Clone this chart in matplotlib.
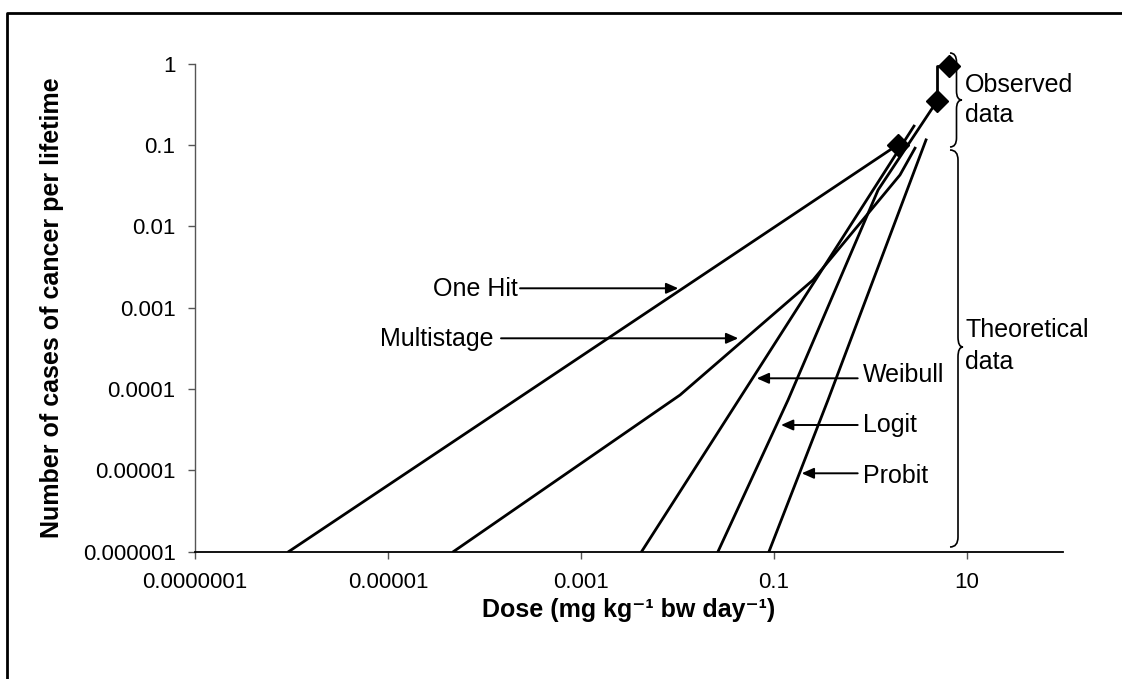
import matplotlib
matplotlib.use('Agg')
import matplotlib.pyplot as plt
from matplotlib.path import Path
from matplotlib.patches import PathPatch, FancyArrowPatch
from matplotlib.lines import Line2D
from matplotlib.ticker import NullLocator, FixedLocator, FixedFormatter

plt.rcParams['font.family'] = ['Liberation Sans', 'DejaVu Sans']

# ---------------- data ----------------
obs_dose = [1.93, 4.98, 6.5]
obs_resp = [0.10, 0.35, 0.93]

one_hit_dose = [9.4e-7, 1.93]
one_hit_resp = [1e-6, 0.10]

multistage_dose = [4.8e-5, 0.0107, 0.256, 2.04, 2.92]
multistage_resp = [1e-6, 8.4e-5, 0.00218, 0.0426, 0.091]

weibull_dose = [0.00428, 2.85]
weibull_resp = [1e-6, 0.17]

logit_dose = [0.0265, 0.141, 1.21, 4.98]
logit_resp = [1e-6, 7.3e-5, 0.0279, 0.35]

probit_dose = [0.0895, 0.366, 3.80]
probit_resp = [1e-6, 7.3e-5, 0.115]

x_ticks = [1e-7, 1e-5, 1e-3, 1e-1, 10]
x_tick_labels = ['0.0000001', '0.00001', '0.001', '0.1', '10']
y_ticks = [1e-6, 1e-5, 1e-4, 1e-3, 1e-2, 1e-1, 1]
y_tick_labels = ['0.000001', '0.00001', '0.0001', '0.001', '0.01', '0.1', '1']

# ---------------- figure ----------------
W, H = 1122, 679
fig = plt.figure(figsize=(W / 100, H / 100), dpi=100)
fig.patch.set_facecolor('white')


def fx(px):
    return px / W


def fy(py):
    return 1 - py / H


ax = fig.add_axes([fx(195), fy(551.5), (1063 - 195) / W, (551.5 - 63.5) / H])
ax.set_xscale('log')
ax.set_yscale('log')
ax.set_xlim(1e-7, 100)
ax.set_ylim(1e-6, 1)

lw = 2.0
ax.plot(one_hit_dose, one_hit_resp, color='black', lw=lw)
ax.plot(multistage_dose, multistage_resp, color='black', lw=lw)
ax.plot(weibull_dose, weibull_resp, color='black', lw=lw)
ax.plot(logit_dose, logit_resp, color='black', lw=lw)
ax.plot(probit_dose, probit_resp, color='black', lw=lw)
# connector between upper observed points
ax.plot([obs_dose[1], obs_dose[1], obs_dose[2]],
        [obs_resp[1], obs_resp[2], obs_resp[2]], color='black', lw=lw)
ax.plot(obs_dose, obs_resp, linestyle='none', marker='D', markersize=11.5,
        color='black', clip_on=False, zorder=5)

for s in ['top', 'right']:
    ax.spines[s].set_visible(False)
ax.spines['left'].set_color('#555555')
ax.spines['left'].set_linewidth(1.0)
ax.spines['bottom'].set_color('black')
ax.spines['bottom'].set_linewidth(1.3)

ax.xaxis.set_major_locator(FixedLocator(x_ticks))
ax.xaxis.set_major_formatter(FixedFormatter(x_tick_labels))
ax.yaxis.set_major_locator(FixedLocator(y_ticks))
ax.yaxis.set_major_formatter(FixedFormatter(y_tick_labels))
ax.xaxis.set_minor_locator(NullLocator())
ax.yaxis.set_minor_locator(NullLocator())
ax.tick_params(axis='x', direction='out', length=4.8, width=1.0, color='#555555',
               pad=10, labelsize=16)
ax.tick_params(axis='y', direction='out', length=5, width=1.0, color='#555555',
               pad=9, labelsize=16)

ax.set_xlabel('Dose (mg kg\u207b\u00b9 bw day\u207b\u00b9)', fontsize=18,
              fontweight='bold')
ax.xaxis.set_label_coords(0.5, (551.5 - 617) / 488, transform=ax.transAxes)
ax.xaxis.label.set_va('baseline')
ax.set_ylabel('Number of cases of cancer per lifetime', fontsize=18,
              fontweight='bold')
ax.yaxis.set_label_coords((52 - 195) / 868, 0.5)
ax.yaxis.label.set_va('center')

# ---------------- annotations ----------------
afs = 18
fig.text(fx(518), fy(296), 'One Hit', ha='right', va='baseline', fontsize=afs)
fig.text(fx(493.5), fy(346), 'Multistage', ha='right', va='baseline', fontsize=afs)
fig.text(fx(863), fy(381.7), 'Weibull', ha='left', va='baseline', fontsize=afs)
fig.text(fx(863), fy(431.7), 'Logit', ha='left', va='baseline', fontsize=afs)
fig.text(fx(863), fy(483.3), 'Probit', ha='left', va='baseline', fontsize=afs)
fig.text(fx(965), fy(91.7), 'Observed', ha='left', va='baseline', fontsize=afs)
fig.text(fx(965), fy(121.7), 'data', ha='left', va='baseline', fontsize=afs)
fig.text(fx(965), fy(337.3), 'Theoretical', ha='left', va='baseline', fontsize=afs)
fig.text(fx(965), fy(369), 'data', ha='left', va='baseline', fontsize=afs)

arrows = [
    ((520, 288.3), (678.3, 288.3)),
    ((501, 338.3), (738.3, 338.3)),
    ((857.7, 378.3), (756.7, 378.3)),
    ((857.7, 425), (781, 425)),
    ((857.7, 473.3), (801.7, 473.3)),
]
for (tx, ty), (hx, hy) in arrows:
    fig.add_artist(FancyArrowPatch(
        (fx(tx), fy(ty)), (fx(hx), fy(hy)), transform=fig.transFigure,
        arrowstyle='-|>,head_length=0.36,head_width=0.16', mutation_scale=20,
        color='black', lw=1.4, shrinkA=0, shrinkB=0))


def brace(x_end, x_body, x_tip, ytop, ymid, ybot, r):
    pts = [
        (x_end, ytop), (x_body, ytop), (x_body, ytop + r),
        (x_body, ymid - r),
        (x_body, ymid), (x_tip, ymid),
        (x_body, ymid), (x_body, ymid + r),
        (x_body, ybot - r),
        (x_body, ybot), (x_end, ybot),
    ]
    codes = [Path.MOVETO, Path.CURVE3, Path.CURVE3, Path.LINETO,
             Path.CURVE3, Path.CURVE3, Path.CURVE3, Path.CURVE3,
             Path.LINETO, Path.CURVE3, Path.CURVE3]
    verts = [(fx(x), fy(y)) for x, y in pts]
    p = PathPatch(Path(verts, codes), transform=fig.transFigure,
                  facecolor='none', edgecolor='black', lw=1.2)
    fig.add_artist(p)


brace(950, 956.5, 962, 53, 100, 147, 9)
brace(950, 958, 963, 150, 347, 547, 10)

# figure border (left and top)
fig.add_artist(Line2D([fx(7), fx(7), 1], [0, fy(13), fy(13)],
                      transform=fig.transFigure, color='black', lw=2))

fig.savefig('out.png', dpi=100, facecolor='white')
